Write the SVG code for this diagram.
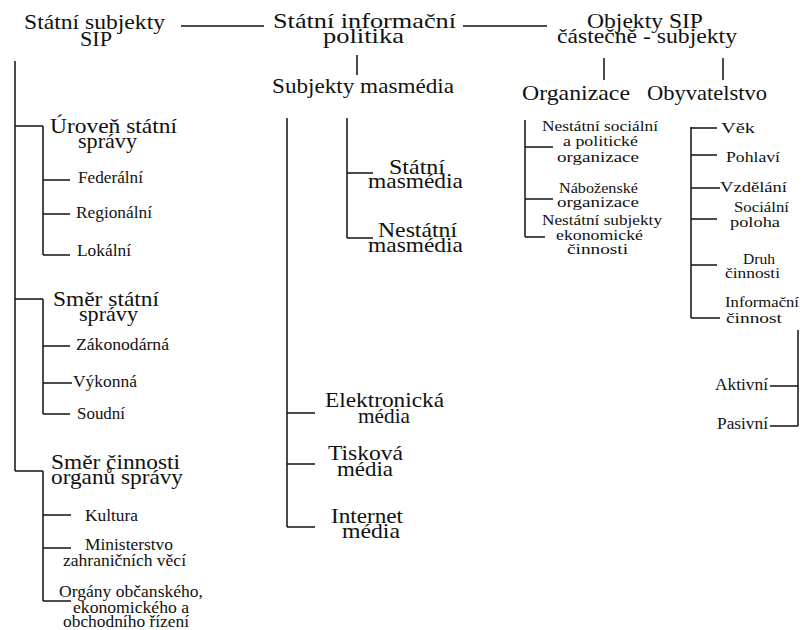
<svg xmlns="http://www.w3.org/2000/svg" width="805" height="630" viewBox="0 0 805 630">
<defs>
<style>
text{font-family:Liberation Serif, Tinos, DejaVu Serif, serif;fill:#111}
.L{font-size:21px}
.S{font-size:16px}
.X{font-size:15px}
.c line{stroke:#111;stroke-width:1.5;fill:none}
</style>
</defs>
<rect width="805" height="630" fill="#fff"/>
<g class="c" id="connectors">
<line x1="181" y1="26" x2="264" y2="26"/>
<line x1="463" y1="26" x2="547" y2="26"/>
<line x1="357" y1="55" x2="357" y2="75"/>
<line x1="604" y1="58" x2="604" y2="80"/>
<line x1="723" y1="58" x2="723" y2="80"/>
<line x1="15" y1="61" x2="15" y2="471"/>
<line x1="15" y1="126" x2="43" y2="126"/>
<line x1="15" y1="299" x2="43" y2="299"/>
<line x1="15" y1="471" x2="43" y2="471"/>
<line x1="43" y1="126" x2="43" y2="255"/>
<line x1="43" y1="180" x2="70" y2="180"/>
<line x1="43" y1="214" x2="70" y2="214"/>
<line x1="43" y1="255" x2="70" y2="255"/>
<line x1="43" y1="299" x2="43" y2="414"/>
<line x1="43" y1="346" x2="70" y2="346"/>
<line x1="43" y1="383" x2="72" y2="383"/>
<line x1="43" y1="414" x2="70" y2="414"/>
<line x1="43" y1="471" x2="43" y2="601"/>
<line x1="43" y1="515" x2="71" y2="515"/>
<line x1="43" y1="548" x2="71" y2="548"/>
<line x1="43" y1="601" x2="71" y2="601"/>
<line x1="287" y1="118" x2="287" y2="527"/>
<line x1="287" y1="413" x2="315" y2="413"/>
<line x1="287" y1="464" x2="315" y2="464"/>
<line x1="287" y1="527" x2="315" y2="527"/>
<line x1="347" y1="118" x2="347" y2="238"/>
<line x1="347" y1="173" x2="373" y2="173"/>
<line x1="347" y1="238" x2="373" y2="238"/>
<line x1="525" y1="120" x2="525" y2="237"/>
<line x1="525" y1="147" x2="553" y2="147"/>
<line x1="525" y1="199" x2="553" y2="199"/>
<line x1="525" y1="237" x2="545" y2="237"/>
<line x1="691" y1="127" x2="691" y2="318"/>
<line x1="691" y1="128" x2="717" y2="128"/>
<line x1="691" y1="155" x2="717" y2="155"/>
<line x1="691" y1="188" x2="720" y2="188"/>
<line x1="691" y1="219" x2="717" y2="219"/>
<line x1="691" y1="265" x2="717" y2="265"/>
<line x1="691" y1="318" x2="720" y2="318"/>
<line x1="798" y1="330" x2="798" y2="426"/>
<line x1="770" y1="386" x2="798" y2="386"/>
<line x1="770" y1="426" x2="798" y2="426"/>
</g>
<g id="statni-subjekty"><text class="L" x="24" y="29" textLength="141" lengthAdjust="spacingAndGlyphs">Státní subjekty</text><text class="L" x="80" y="46" textLength="32" lengthAdjust="spacingAndGlyphs">SIP</text></g>
<g id="sip"><text class="L" x="273" y="28" textLength="183" lengthAdjust="spacingAndGlyphs">Státní informační</text><text class="L" x="323" y="43" textLength="81" lengthAdjust="spacingAndGlyphs">politika</text></g>
<g id="objekty"><text class="L" x="587" y="28" textLength="116" lengthAdjust="spacingAndGlyphs">Objekty SIP</text><text class="L" x="557" y="43" textLength="180" lengthAdjust="spacingAndGlyphs">částečně - subjekty</text></g>
<g id="subjekty-masmedia"><text class="L" x="272" y="93" textLength="182" lengthAdjust="spacingAndGlyphs">Subjekty masmédia</text></g>
<g id="organizace"><text class="L" x="522" y="100" textLength="108" lengthAdjust="spacingAndGlyphs">Organizace</text></g>
<g id="obyvatelstvo"><text class="L" x="647" y="100" textLength="120" lengthAdjust="spacingAndGlyphs">Obyvatelstvo</text></g>

<g id="uroven"><text class="L" x="50" y="133" textLength="127" lengthAdjust="spacingAndGlyphs">Úroveň státní</text><text class="L" x="78" y="148" textLength="59" lengthAdjust="spacingAndGlyphs">správy</text></g>
<g id="federalni"><text class="S" x="78" y="183" textLength="65" lengthAdjust="spacingAndGlyphs">Federální</text></g>
<g id="regionalni"><text class="S" x="76" y="218" textLength="76" lengthAdjust="spacingAndGlyphs">Regionální</text></g>
<g id="lokalni"><text class="S" x="77" y="256" textLength="54" lengthAdjust="spacingAndGlyphs">Lokální</text></g>
<g id="smer"><text class="L" x="53" y="306" textLength="106" lengthAdjust="spacingAndGlyphs">Směr státní</text><text class="L" x="79" y="321" textLength="59" lengthAdjust="spacingAndGlyphs">správy</text></g>
<g id="zakonodarna"><text class="S" x="76" y="350" textLength="93" lengthAdjust="spacingAndGlyphs">Zákonodárná</text></g>
<g id="vykonna"><text class="S" x="73" y="387" textLength="64" lengthAdjust="spacingAndGlyphs">Výkonná</text></g>
<g id="soudni"><text class="S" x="77" y="419" textLength="48" lengthAdjust="spacingAndGlyphs">Soudní</text></g>
<g id="smer-cinnosti"><text class="L" x="51" y="469" textLength="129" lengthAdjust="spacingAndGlyphs">Směr činnosti</text><text class="L" x="51" y="484" textLength="132" lengthAdjust="spacingAndGlyphs">organů správy</text></g>
<g id="kultura"><text class="S" x="85" y="521" textLength="53" lengthAdjust="spacingAndGlyphs">Kultura</text></g>
<g id="ministerstvo"><text class="S" x="85" y="550" textLength="88" lengthAdjust="spacingAndGlyphs">Ministerstvo</text><text class="S" x="63" y="566" textLength="123" lengthAdjust="spacingAndGlyphs">zahraničních věcí</text></g>
<g id="organy"><text class="S" x="59" y="597" textLength="144" lengthAdjust="spacingAndGlyphs">Orgány občanského,</text><text class="S" x="73" y="613" textLength="116" lengthAdjust="spacingAndGlyphs">ekonomického a</text><text class="S" x="63" y="627" textLength="126" lengthAdjust="spacingAndGlyphs">obchodního řízení</text></g>

<g id="statni-masmedia"><text class="L" x="389" y="174" textLength="56" lengthAdjust="spacingAndGlyphs">Státní</text><text class="L" x="368" y="188" textLength="95" lengthAdjust="spacingAndGlyphs">masmédia</text></g>
<g id="nestatni-masmedia"><text class="L" x="378" y="237" textLength="79" lengthAdjust="spacingAndGlyphs">Nestátní</text><text class="L" x="368" y="252" textLength="95" lengthAdjust="spacingAndGlyphs">masmédia</text></g>
<g id="elektronicka"><text class="L" x="325" y="407" textLength="119" lengthAdjust="spacingAndGlyphs">Elektronická</text><text class="L" x="358" y="423" textLength="52" lengthAdjust="spacingAndGlyphs">média</text></g>
<g id="tiskova"><text class="L" x="328" y="460" textLength="75" lengthAdjust="spacingAndGlyphs">Tisková</text><text class="L" x="337" y="476" textLength="56" lengthAdjust="spacingAndGlyphs">média</text></g>
<g id="internet"><text class="L" x="331" y="523" textLength="72" lengthAdjust="spacingAndGlyphs">Internet</text><text class="L" x="342" y="538" textLength="58" lengthAdjust="spacingAndGlyphs">média</text></g>

<g id="nestatni-socialni"><text class="X" x="542" y="131" textLength="116" lengthAdjust="spacingAndGlyphs">Nestátní sociální</text><text class="X" x="563" y="146" textLength="75" lengthAdjust="spacingAndGlyphs">a politické</text><text class="X" x="557" y="162" textLength="82" lengthAdjust="spacingAndGlyphs">organizace</text></g>
<g id="nabozenske"><text class="X" x="559" y="193" textLength="79" lengthAdjust="spacingAndGlyphs">Náboženské</text><text class="X" x="557" y="207" textLength="82" lengthAdjust="spacingAndGlyphs">organizace</text></g>
<g id="nestatni-subjekty"><text class="X" x="542" y="225" textLength="120" lengthAdjust="spacingAndGlyphs">Nestátní subjekty</text><text class="X" x="556" y="240" textLength="87" lengthAdjust="spacingAndGlyphs">ekonomické</text><text class="X" x="567" y="254" textLength="61" lengthAdjust="spacingAndGlyphs">činnosti</text></g>

<g id="vek"><text class="X" x="721" y="133" textLength="34" lengthAdjust="spacingAndGlyphs">Věk</text></g>
<g id="pohlavi"><text class="X" x="726" y="162" textLength="54" lengthAdjust="spacingAndGlyphs">Pohlaví</text></g>
<g id="vzdelani"><text class="X" x="720" y="192" textLength="67" lengthAdjust="spacingAndGlyphs">Vzdělání</text></g>
<g id="socialni-poloha"><text class="X" x="734" y="212" textLength="55" lengthAdjust="spacingAndGlyphs">Sociální</text><text class="X" x="730" y="227" textLength="50" lengthAdjust="spacingAndGlyphs">poloha</text></g>
<g id="druh-cinnosti"><text class="X" x="743" y="264" textLength="32" lengthAdjust="spacingAndGlyphs">Druh</text><text class="X" x="725" y="278" textLength="55" lengthAdjust="spacingAndGlyphs">činnosti</text></g>
<g id="informacni-cinnost"><text class="X" x="725" y="307" textLength="74" lengthAdjust="spacingAndGlyphs">Informační</text><text class="X" x="726" y="323" textLength="56" lengthAdjust="spacingAndGlyphs">činnost</text></g>
<g id="aktivni"><text class="S" x="715" y="390" textLength="53" lengthAdjust="spacingAndGlyphs">Aktivní</text></g>
<g id="pasivni"><text class="S" x="717" y="429" textLength="51" lengthAdjust="spacingAndGlyphs">Pasivní</text></g>
</svg>
